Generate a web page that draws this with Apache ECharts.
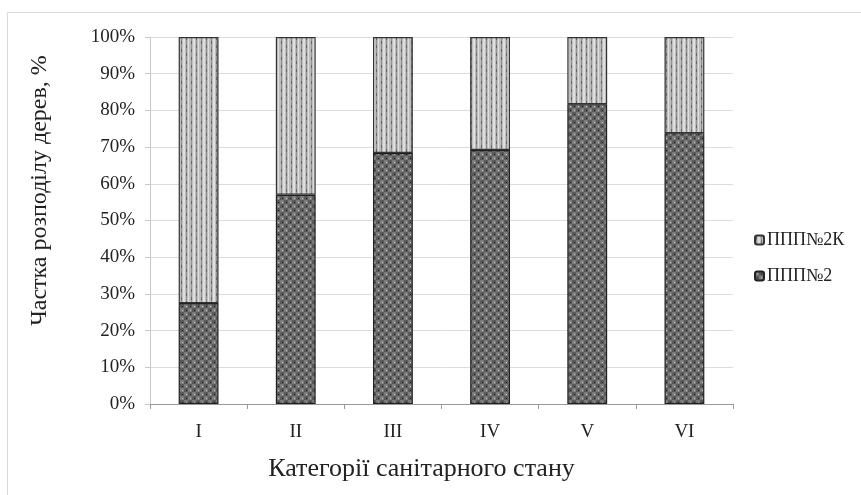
<!DOCTYPE html>
<html>
<head>
<meta charset="utf-8">
<script src="https://cdn.jsdelivr.net/npm/echarts@6/dist/echarts.min.js"></script>
<style>
html,body{margin:0;padding:0;background:#fff;}
#chart{width:861px;height:495px;}
</style>
</head>
<body>
<div id="chart"></div>
<script>
// Sanitary-state categories and the share of trees per plot (percent)
const categories = ['I', 'II', 'III', 'IV', 'V', 'VI'];
const seriesNames = ['ППП№2', 'ППП№2К'];
const plot2 = [27.5, 57.0, 68.4, 69.2, 81.7, 73.8];
const plot2K = [72.5, 43.0, 31.6, 30.8, 18.3, 26.2];
const yTicks = [0, 10, 20, 30, 40, 50, 60, 70, 80, 90, 100];

// Checkered dark fill
function darkPattern() {
  const c = document.createElement('canvas');
  c.width = 8; c.height = 8;
  const g = c.getContext('2d');
  g.fillStyle = '#3a3a3a'; g.fillRect(0, 0, 8, 8);
  g.fillStyle = '#7a7a7a';
  g.fillRect(0, 0, 4, 4); g.fillRect(4, 4, 4, 4);
  g.fillStyle = '#5a5a5a';
  g.fillRect(4, 0, 4, 4); g.fillRect(0, 4, 4, 4);
  g.fillStyle = '#d0d0d0';
  g.fillRect(2, 2, 1, 1); g.fillRect(6, 6, 1, 1);
  g.fillStyle = '#1c1c1c';
  g.fillRect(6, 2, 1, 1); g.fillRect(2, 6, 1, 1);
  return c;
}
// Light vertical-striped fill
function lightPattern() {
  const c = document.createElement('canvas');
  c.width = 10; c.height = 8;
  const g = c.getContext('2d');
  g.fillStyle = '#bdbdbd'; g.fillRect(0, 0, 10, 8);
  g.fillStyle = '#929292';
  g.fillRect(1, 0, 1, 8); g.fillRect(6, 0, 1, 8);
  g.fillStyle = '#dedede';
  g.fillRect(3, 0, 2, 8); g.fillRect(8, 0, 1, 8);
  g.fillStyle = '#666';
  g.fillRect(1, 1, 1, 3); g.fillRect(6, 5, 1, 3);
  return c;
}

const chart = echarts.init(document.getElementById('chart'), null, {renderer: 'canvas'});
const serif = '"Liberation Serif", "DejaVu Serif", serif';

chart.setOption({
  animation: false,
  backgroundColor: '#fff',
  graphic: [{
    type: 'rect',
    shape: {x: 7.5, y: 12.5, width: 900, height: 520},
    style: {fill: 'none', stroke: '#d9d9d9', lineWidth: 1},
    silent: true
  }],
  grid: {left: 150, right: 128, top: 37, bottom: 91, containLabel: false, outerBoundsMode: 'none'},
  legend: {
    orient: 'vertical',
    left: 749,
    top: 226,
    itemGap: 18,
    itemWidth: 9,
    itemHeight: 9,
    data: [seriesNames[1], seriesNames[0]],
    textStyle: {fontFamily: serif, fontSize: 18, color: '#222', padding: [0, 0, 0, -2]}
  },
  xAxis: {
    type: 'category',
    data: categories,
    name: 'Категорії санітарного стану',
    nameLocation: 'middle',
    nameGap: 52,
    nameTextStyle: {fontFamily: serif, fontSize: 26, color: '#222', padding: [0, 40, 0, 0]},
    axisLine: {lineStyle: {color: '#9a9a9a'}},
    axisTick: {show: true, length: 5, lineStyle: {color: '#9a9a9a'}},
    axisLabel: {fontFamily: serif, fontSize: 19, color: '#222', margin: 19}
  },
  yAxis: {
    type: 'value',
    min: 0,
    max: 100,
    interval: 10,
    name: 'Частка розподілу дерев, %',
    nameLocation: 'middle',
    nameGap: 98,
    nameTextStyle: {fontFamily: serif, fontSize: 24, color: '#222', padding: [0, 0, 0, 60]},
    axisLine: {show: true, lineStyle: {color: '#c8c8c8'}},
    axisTick: {show: true, length: 5, lineStyle: {color: '#c8c8c8'}},
    splitLine: {lineStyle: {color: '#dcdcdc'}},
    axisLabel: {
      fontFamily: serif, fontSize: 19, color: '#222', margin: 15,
      formatter: v => (yTicks.indexOf(v) >= 0 ? v + '%' : '')
    }
  },
  series: [
    {
      name: seriesNames[0],
      type: 'bar',
      stack: 'total',
      barWidth: '41%',
      data: plot2,
      itemStyle: {color: {image: darkPattern(), repeat: 'repeat'}, borderColor: '#222', borderWidth: 1.2}
    },
    {
      name: seriesNames[1],
      type: 'bar',
      stack: 'total',
      barWidth: '41%',
      data: plot2K,
      itemStyle: {color: {image: lightPattern(), repeat: 'repeat'}, borderColor: '#333', borderWidth: 1.2}
    }
  ]
});
</script>
</body>
</html>
